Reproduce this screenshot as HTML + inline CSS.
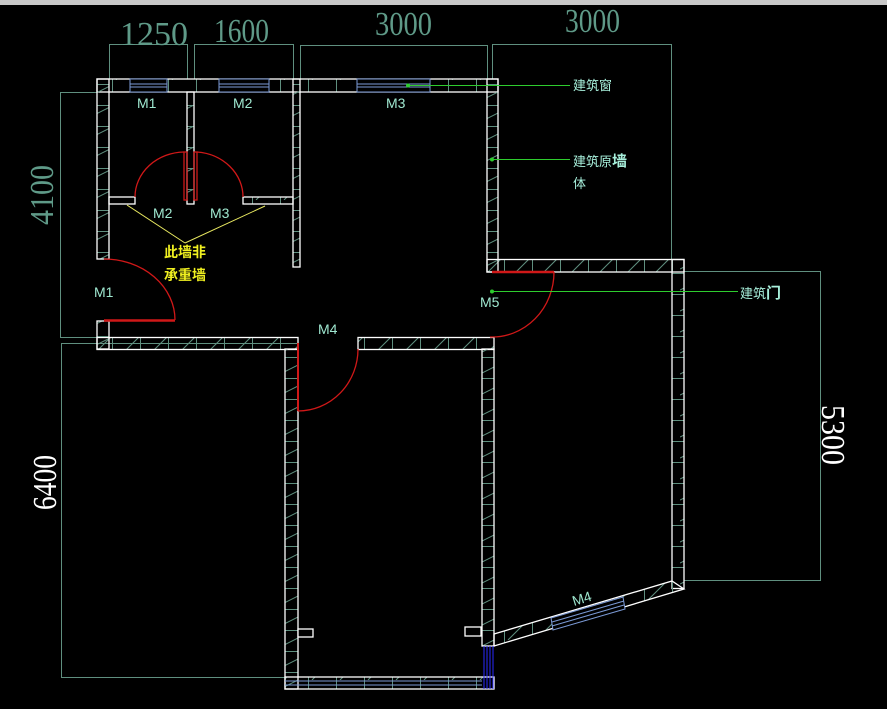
<!DOCTYPE html>
<html><head><meta charset="utf-8"><style>
html,body{margin:0;padding:0;background:#000;}
svg{display:block;}
</style></head><body>
<svg width="887" height="709" viewBox="0 0 887 709" xmlns="http://www.w3.org/2000/svg">
<defs>
<pattern id="vp" patternUnits="userSpaceOnUse" width="40" height="21">
<line x1="0" y1="0.5" x2="40" y2="0.5" stroke="#5f8f7f" stroke-width="1"/>
<line x1="0" y1="17" x2="40" y2="-3" stroke="#5f8f7f" stroke-width="1"/>
</pattern>
<pattern id="hp" patternUnits="userSpaceOnUse" width="28" height="40">
<line x1="0.5" y1="0" x2="0.5" y2="40" stroke="#5f8f7f" stroke-width="1"/>
<line x1="4" y1="40" x2="44" y2="0" stroke="#5f8f7f" stroke-width="1"/>
</pattern>
</defs>
<rect width="887" height="709" fill="#000"/>
<rect x="0" y="0" width="887" height="5" fill="#c8c8c8"/>

<!-- dimension boxes -->
<g fill="none" stroke="#5f8f7f" stroke-width="1">
<path d="M109.5 79 V44.5 H187.5 V79"/>
<path d="M194.5 79 V44.5 H293.5 V79"/>
<path d="M300.5 79 V45.5 H487.5 V79"/>
<path d="M492.5 79 V44.5 H671.5 V260"/>
<path d="M97 92.5 H60.5 V337.5 H97"/>
<path d="M298 343.5 H61.5 V677.5 H285"/>
<path d="M684 271.5 H820.5 V580.5 H684"/>
</g>

<!-- walls: horizontal -->
<g stroke="#fff" stroke-width="1.3">
<rect x="97" y="79" width="401" height="13" fill="url(#hp)"/>
<rect x="487" y="259.5" width="197" height="12.5" fill="url(#hp)"/>
<rect x="97" y="337.5" width="201" height="12" fill="url(#hp)"/>
<rect x="358" y="337.5" width="136" height="12" fill="url(#hp)"/>
<rect x="109" y="197" width="26" height="7" fill="none"/>
<rect x="243" y="197" width="50" height="7" fill="url(#hp)"/>
<!-- vertical -->
<rect x="97" y="79" width="12" height="180" fill="url(#vp)"/>
<rect x="97" y="321" width="12" height="28" fill="url(#vp)"/>
<rect x="187" y="92" width="7" height="112" fill="url(#vp)"/>
<rect x="293" y="79" width="7" height="188" fill="url(#vp)"/>
<rect x="487" y="79" width="11" height="193" fill="url(#vp)"/>
<rect x="672" y="259.5" width="12" height="329" fill="url(#vp)"/>
<rect x="285" y="349" width="13" height="340" fill="url(#vp)"/>
<rect x="482" y="349" width="12" height="297" fill="url(#vp)"/>
<polygon points="494,634 672,581 684,589 494,646" fill="url(#hp)"/>
<rect x="285" y="677" width="209" height="12" fill="url(#hp)"/>
<rect x="298" y="629" width="15" height="8" fill="#000"/>
<rect x="465" y="627" width="16" height="9" fill="#000"/>
</g>

<!-- windows -->
<g stroke="#7b9ad6" stroke-width="1" fill="#000">
<rect x="130" y="79" width="37" height="13"/>
<line x1="130" y1="84" x2="167" y2="84"/><line x1="130" y1="87" x2="167" y2="87"/>
<rect x="219" y="79" width="50" height="13"/>
<line x1="219" y1="84" x2="269" y2="84"/><line x1="219" y1="87" x2="269" y2="87"/>
<rect x="357" y="79" width="73" height="13"/>
<line x1="357" y1="84" x2="430" y2="84"/><line x1="357" y1="87" x2="430" y2="87"/>
<polygon points="551,618 623,597 625,609 553,630"/>
<line x1="552" y1="622" x2="624" y2="601"/><line x1="552" y1="626" x2="624" y2="605"/>
<line x1="285" y1="681" x2="482" y2="681"/><line x1="285" y1="685" x2="482" y2="685"/>
</g>
<g stroke="#2a2aff" stroke-width="1">
<line x1="484" y1="646" x2="484" y2="689"/><line x1="487" y1="646" x2="487" y2="689"/><line x1="490" y1="646" x2="490" y2="689"/><line x1="493" y1="646" x2="493" y2="689"/>
</g>

<!-- doors -->
<g stroke="#d01818" fill="none" stroke-width="1.3">
<rect x="184" y="152" width="3" height="48"/>
<rect x="194" y="152" width="3" height="48"/>
<path d="M135 197 A50 45 0 0 1 184 152"/>
<path d="M243 197 A50 45 0 0 0 197 152"/>
<path d="M104 259 A71 61 0 0 1 175 320"/>
<line x1="104" y1="320.5" x2="175" y2="320.5" stroke-width="2.5"/>
<line x1="298" y1="343" x2="298" y2="411" stroke-width="2"/>
<path d="M298 411 A60 62 0 0 0 358 349"/>
<line x1="492" y1="272" x2="554" y2="272" stroke-width="2.5"/>
<path d="M554 272 A62 65 0 0 1 490 337"/>
</g>

<!-- yellow leaders -->
<g stroke="#e8e860" stroke-width="1">
<line x1="127" y1="205" x2="185" y2="243"/>
<line x1="265" y1="206" x2="185" y2="243"/>
</g>

<!-- green leaders -->
<g stroke="#2ecc2e" stroke-width="1">
<line x1="408" y1="85.5" x2="570" y2="85.5"/>
<line x1="492" y1="159.5" x2="570" y2="159.5"/>
<line x1="492" y1="291.5" x2="738" y2="291.5"/>
</g>
<g fill="#2ecc2e"><circle cx="408" cy="85.5" r="2"/><circle cx="492" cy="159.5" r="2"/><circle cx="492" cy="291.5" r="2"/></g>

<!-- labels -->
<g font-family="'Liberation Sans', sans-serif" font-size="14" fill="#9fe8d0">
<text x="137" y="108">M1</text>
<text x="233" y="108">M2</text>
<text x="386" y="108">M3</text>
<text x="153" y="218">M2</text>
<text x="210" y="218">M3</text>
<text x="94" y="297">M1</text>
<text x="318" y="334">M4</text>
<text x="480" y="307">M5</text>
<text x="574" y="606" transform="rotate(-17 574 606)">M4</text>
</g>
<g font-family="'Liberation Sans','Noto Sans CJK SC',sans-serif" font-size="13" fill="#a8f0dc">
<text x="573" y="90">建筑窗</text>
<text x="573" y="166">建筑原<tspan font-size="15" font-weight="bold">墙</tspan></text>
<text x="573" y="188">体</text>
<text x="740" y="298">建筑<tspan font-size="15" font-weight="bold">门</tspan></text>
</g>
<g font-family="'Liberation Sans','Noto Sans CJK SC',sans-serif" font-size="14" font-weight="bold" fill="#f0f020">
<text x="164" y="257">此墙非</text>
<text x="164" y="280">承重墙</text>
</g>

<!-- dimension numbers -->
<g font-family="'Liberation Serif', serif" font-size="34" fill="#5f9a88">
<text x="120" y="45" textLength="68" lengthAdjust="spacingAndGlyphs">1250</text>
<text x="214" y="42" textLength="55" lengthAdjust="spacingAndGlyphs">1600</text>
<text x="375" y="35" textLength="57" lengthAdjust="spacingAndGlyphs">3000</text>
<text x="565" y="32" textLength="55" lengthAdjust="spacingAndGlyphs">3000</text>
<text transform="translate(53 225) rotate(-90)" textLength="60" lengthAdjust="spacingAndGlyphs">4100</text>
</g>
<g font-family="'Liberation Serif', serif" font-size="34" fill="#fff">
<text transform="translate(56 510) rotate(-90)" textLength="55" lengthAdjust="spacingAndGlyphs">6400</text>
<text transform="translate(822 405) rotate(90)" textLength="60" lengthAdjust="spacingAndGlyphs">5300</text>
</g>
</svg>
</body></html>
